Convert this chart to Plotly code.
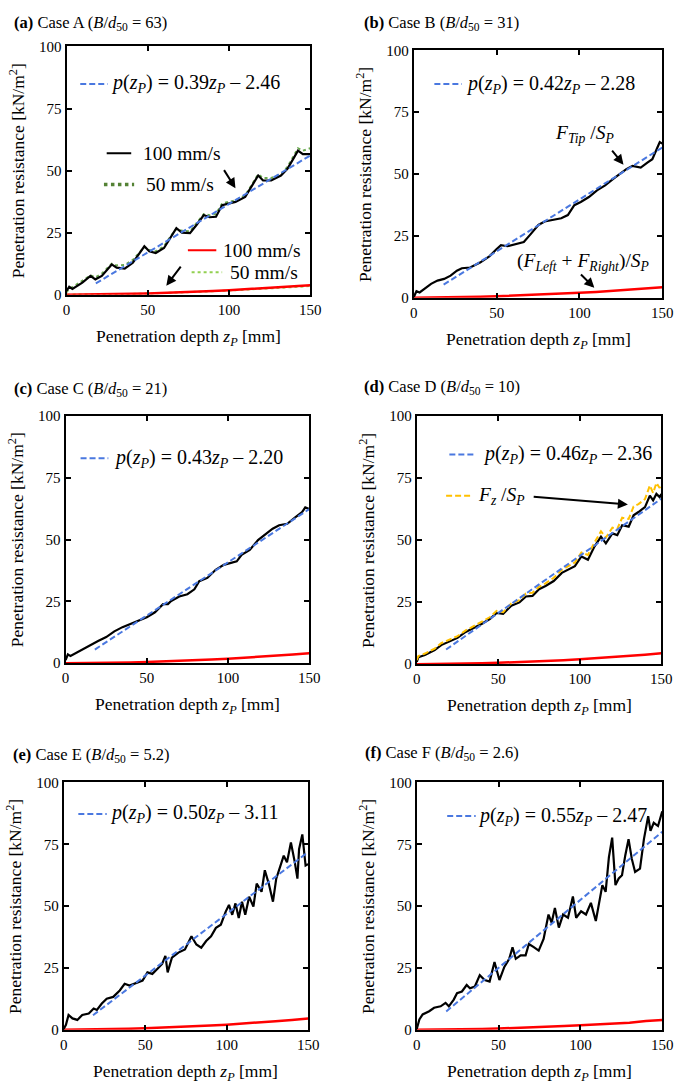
import plotly.graph_objects as go

W, H = 685, 1091
FONT = "Liberation Serif, Times New Roman, serif"

# ---------------- data ----------------
xa = [0, 1.6, 3.6, 9.7, 14.7, 17.7, 21.7, 27.8, 30.8, 35.8, 40.8, 45.9, 47.9, 50.9, 54.9, 60, 64, 67.6, 71, 76,
      80, 84.5, 88, 92, 95.8, 100, 104, 110, 115, 118, 121, 126, 132, 136, 139.5, 142.5, 145.5, 150]
ya_100 = [1.6, 3.2, 2.3, 4.9, 7.6, 6.2, 7.6, 12.2, 10.9, 10.5, 12.9, 17.5, 19.5, 17.5, 16.8, 18.8, 22.8, 26.8, 25,
          24.8, 28.1, 32.1, 31.2, 31.4, 36.1, 36.7, 37.4, 39.4, 44.7, 48, 46, 46, 48, 50.7, 54.6, 58, 56.6, 56.6]
ya_50 = [1.0, 2.5, 3.0, 5.5, 7.8, 7.0, 8.5, 12.5, 11.8, 12.0, 14.0, 17.8, 19.3, 18.0, 17.5, 19.5, 23.5, 26.5, 25.8,
         25.5, 29.0, 32.5, 32.0, 32.5, 36.8, 37.5, 38.0, 40.0, 45.0, 48.5, 47.0, 47.0, 48.5, 51.5, 55.5, 59.0, 58.0, 59.0]

xr = [0, 10, 20, 30, 40, 50, 60, 70, 80, 90, 100, 110, 120, 130, 140, 150]
ra_100 = [0, 0.03, 0.1, 0.2, 0.35, 0.5, 0.7, 0.95, 1.2, 1.5, 1.8, 2.15, 2.5, 2.9, 3.35, 3.8]
ra_50 = [0, 0.03, 0.1, 0.2, 0.33, 0.48, 0.66, 0.88, 1.12, 1.4, 1.7, 2.0, 2.35, 2.7, 3.1, 3.5]

xb = [0, 1.6, 3.5, 6.5, 10.4, 14.3, 18.3, 22.2, 26, 29, 34, 40, 45.8, 49.7, 52.6, 56.6, 61.5, 66.4, 70.3, 75.2, 79,
      84, 89, 93, 96.9, 100.8, 105.7, 110.6, 115.5, 120.4, 125.3, 128.3, 132, 137, 141, 144, 147, 148.5, 150]
yb = [0.3, 2.6, 2.1, 3.6, 5.6, 6.9, 7.6, 8.9, 10.9, 11.9, 12.2, 14.2, 16.8, 19.5, 21.2, 20.8, 21.5, 22.5, 25.5,
      29.4, 30.8, 31.4, 32.1, 33.4, 37.4, 38.7, 40.7, 43.4, 45.4, 48, 50.7, 52, 53.3, 52.6, 54.6, 56, 60.6, 62.9, 62.3]
rb = [0, 0.03, 0.1, 0.22, 0.38, 0.56, 0.78, 1.02, 1.3, 1.6, 1.95, 2.3, 2.7, 3.2, 3.7, 4.2]

xc = [0, 1.4, 3, 6, 10, 15, 20, 25, 30, 35, 40, 45, 50, 55, 60, 63, 65, 70, 75, 79.3, 82.3, 87.3, 92.4, 97.4,
      102.4, 105.4, 108.4, 113.4, 118.5, 122.5, 127.5, 131.5, 136.5, 141.6, 145.6, 147.6, 150]
yc = [1.3, 3.6, 2.9, 4.0, 5.3, 7.3, 9.0, 10.6, 12.9, 14.6, 15.9, 17.3, 18.6, 20.6, 23.9, 23.9, 25.2, 27.0, 27.9,
      29.9, 33.2, 34.5, 37.8, 39.8, 40.5, 41.2, 43.8, 45.8, 49.8, 51.8, 54.4, 55.8, 56.4, 59.1, 61.1, 63.0, 62.4]
rc = [0, 0.03, 0.1, 0.2, 0.35, 0.52, 0.72, 0.96, 1.22, 1.52, 1.85, 2.2, 2.6, 3.05, 3.5, 4.0]

xd = [0, 1, 5, 11, 15, 20, 25, 30, 35, 40, 45, 49, 53, 58, 63, 67, 71, 75, 79, 84, 89, 93, 97, 101, 105, 109,
      113, 116, 120, 123, 126, 130, 133, 136, 140, 143, 145, 147, 149, 150]
yd = [1, 2.8, 3.7, 5.7, 7.7, 9, 10.6, 13, 14.6, 16.3, 18.3, 20.7, 20.3, 23.6, 24.9, 27.3, 27.5, 30.2, 31.5, 33.5,
      36.8, 38.1, 39.5, 43.4, 42.1, 47.4, 51.4, 48.7, 52.7, 52, 56, 55.4, 60, 61.3, 63.3, 67.9, 66, 68.6, 67.3, 68.6]
yd_fz = [1.7, 3.3, 4.3, 6.3, 8.5, 9.8, 11.3, 13.6, 15.4, 17.0, 19.0, 21.5, 21.0, 24.5, 25.8, 28.5, 28.8, 31.2,
         32.6, 34.8, 38.0, 39.5, 41.0, 45.0, 44.0, 49.0, 53.5, 51.0, 55.0, 54.5, 59.0, 58.5, 63.5, 64.5, 66.5,
         72.0, 69.0, 73.0, 71.0, 72.5]
rd = [0, 0.04, 0.12, 0.24, 0.4, 0.58, 0.8, 1.05, 1.33, 1.65, 2.0, 2.4, 2.85, 3.3, 3.85, 4.4]

xe = [0, 1.4, 3, 5.4, 8.4, 11.4, 15.4, 18.4, 20.4, 23.4, 26.4, 30.4, 34.4, 37.4, 40.4, 44.4, 48.4, 51.4, 54.4,
      57.4, 60.4, 62.4, 63.8, 66.4, 70.4, 74.4, 78.4, 81.4, 84.4, 87.4, 90.4, 93.4, 96.4, 99.4, 101.4, 103.4,
      105.4, 107.4, 109.4, 111.4, 113.8, 116.4, 118.4, 121.4, 123.4, 125.8, 128.4, 130.4, 133, 135, 137, 139.4,
      141.8, 143.4, 144.4, 146.4, 148.4, 150]
ye = [0.3, 2, 6, 4.6, 4, 6, 6.6, 8.6, 8, 10.6, 12.6, 13.3, 15.9, 18.6, 17.9, 18.9, 19.9, 23.2, 22.6, 24.6, 26.6,
      29.9, 23.2, 29.2, 31.2, 32.5, 37.8, 34.5, 33.2, 35.9, 37.8, 41.2, 42.5, 47.8, 50.5, 46.5, 51.1, 45.2, 51.8,
      46.5, 53.8, 49.8, 59.1, 55.8, 64.5, 59.1, 51.8, 61.1, 66.4, 70.4, 67.7, 75.7, 67.7, 61.1, 73, 79, 66.4, 67]
re_ = [0, 0.04, 0.12, 0.24, 0.4, 0.6, 0.82, 1.08, 1.35, 1.7, 2.05, 2.45, 2.8, 3.5, 4.0, 4.6]

xf = [0, 1.6, 3.6, 7.6, 10.6, 14.6, 17.6, 19.6, 22.6, 24.6, 27.6, 30.5, 32.5, 35.5, 38.5, 41.5, 44.5, 47.5, 50.5,
      53.5, 56.5, 58.5, 60.5, 63.5, 66.5, 68.5, 71.5, 74.5, 77.5, 80.5, 82.4, 84.4, 86.8, 89.4, 92.4, 95.4, 97.4,
      100.4, 103.4, 106.4, 109.4, 111.4, 113.4, 115.4, 117.4, 119.4, 121.4, 123.4, 125.4, 127.4, 129.4, 131.4,
      133.4, 136.4, 138.8, 141.4, 142.8, 144.8, 147.4, 150]
yf = [0.3, 4.2, 6.2, 7.5, 8.9, 9.5, 10.9, 9.5, 12.2, 14.8, 15.5, 18.1, 16.8, 17.5, 22.1, 20.1, 19.5, 27.4, 20.1,
      25.4, 28.7, 33.4, 28.7, 30.1, 30.1, 34.7, 33.4, 32, 36.7, 46.6, 43.3, 49.3, 41.3, 46.6, 45.3, 53.9, 45.3,
      47.9, 46.6, 51.3, 44, 51.9, 58.5, 55.8, 69.8, 77.7, 58.5, 61.2, 62.5, 70.5, 77.1, 69.1, 63.8, 65.2, 77.1,
      86.4, 80.4, 83.7, 82.4, 88.3]
rf = [0, 0.03, 0.1, 0.2, 0.34, 0.5, 0.7, 0.92, 1.2, 1.5, 1.85, 2.2, 2.5, 2.8, 3.6, 4.0]

fit_x = [18, 150]
fit_a = [4.56, 56.04]
fit_b = [5.28, 60.72]
fit_c = [5.54, 62.30]
fit_d = [5.92, 66.64]
fit_e = [5.89, 71.89]
fit_f = [7.43, 80.03]

titles = ["<b>(a)</b> Case A (<i>B</i>/<i>d</i><sub>50</sub> = 63)",
          "<b>(b)</b> Case B (<i>B</i>/<i>d</i><sub>50</sub> = 31)",
          "<b>(c)</b> Case C (<i>B</i>/<i>d</i><sub>50</sub> = 21)",
          "<b>(d)</b> Case D (<i>B</i>/<i>d</i><sub>50</sub> = 10)",
          "<b>(e)</b> Case E (<i>B</i>/<i>d</i><sub>50</sub> = 5.2)",
          "<b>(f)</b> Case F (<i>B</i>/<i>d</i><sub>50</sub> = 2.6)"]
eq_coef = ["0.39", "0.42", "0.43", "0.46", "0.50", "0.55"]
eq_int = ["2.46", "2.28", "2.20", "2.36", "3.11", "2.47"]
x_ticks = [0, 50, 100, 150]
y_ticks = [0, 25, 50, 75, 100]

# ---------------- styling / layout ----------------
BLUE = "#4a78e0"
RED = "#ff0000"
DKGREEN = "#548235"
LTGREEN = "#92d050"
YELLOW = "#ffc000"
DASH = "6px,3px"

panels = [(64, 313, 39, 291), (419, 673, 43, 294), (63, 312, 414, 665),
          (422, 672, 414, 666), (61, 311, 786, 1037), (422, 673, 786, 1037)]
title_pos = [(8, 15), (366, 15), (8, 387), (366, 385), (7, 758), (367, 756)]
eq_pos = [(8.4, 25.3, 25.9, 84.9), (12.4, 29, 30.1, 86.4), (9.2, 26.3, 28.3, 82.9),
          (20, 36.5, 39.6, 84.5), (9, 26.4, 27.0, 87.3), (18.6, 36, 36.4, 86.4)]

fig = go.Figure()
ann = []
shapes = []


def px(x):
    return x / W


def py(y):
    return 1 - y / H


def names(i):
    s = "" if i == 0 else str(i + 1)
    return "x" + s, "y" + s, "xaxis" + s, "yaxis" + s


def line(i, x, y, color, width, dash="solid"):
    xr_, yr_, _, _ = names(i)
    fig.add_trace(go.Scatter(x=x, y=y, mode="lines", xaxis=xr_, yaxis=yr_,
                             line=dict(color=color, width=width, dash=dash), hoverinfo="skip"))


fits = [fit_a, fit_b, fit_c, fit_d, fit_e, fit_f]
reds = [ra_100, rb, rc, rd, re_, rf]
blacks = [(xa, ya_100), (xb, yb), (xc, yc), (xd, yd), (xe, ye), (xf, yf)]

for i in range(6):
    xr_, yr_, xk, yk = names(i)
    l, r, t, b = panels[i]
    fig.layout[xk] = dict(domain=[px(l), px(r)], anchor=yr_, range=[0, 150], tickvals=x_ticks,
                          showline=True, mirror="ticks", linecolor="black", linewidth=2,
                          ticks="inside", ticklen=5, tickwidth=1.5, tickcolor="black",
                          showgrid=False, zeroline=False,
                          tickfont=dict(family=FONT, size=15, color="black"))
    fig.layout[yk] = dict(domain=[py(b), py(t)], anchor=xr_, range=[0, 100], tickvals=y_ticks,
                          showline=True, mirror="ticks", linecolor="black", linewidth=2,
                          ticks="inside", ticklen=5, tickwidth=1.5, tickcolor="black",
                          showgrid=False, zeroline=False,
                          tickfont=dict(family=FONT, size=15, color="black"))

    # data
    if i == 0:
        line(i, xr, ra_50, LTGREEN, 2, "dot")
        line(i, xr, ra_100, RED, 2.5)
        line(i, xa, ya_50, "#6aa84f", 2, "dot")
        line(i, xa, ya_100, "black", 2.2)
    else:
        line(i, xr, reds[i], RED, 2.5)
        line(i, blacks[i][0], blacks[i][1], "black", 2.2)
        if i == 3:
            line(i, xd, yd_fz, YELLOW, 2, DASH)
    line(i, fit_x, fits[i], BLUE, 2, DASH)

    # titles
    tx, ty = title_pos[i]
    ann.append(dict(x=px(tx), y=py(ty), xref="paper", yref="paper", xanchor="left", yanchor="middle",
                    text=titles[i], showarrow=False, font=dict(family=FONT, size=16.5, color="black")))
    ann.append(dict(x=px(l - 51), y=py((t + b) / 2), xref="paper", yref="paper", xanchor="center",
                    yanchor="middle", textangle=-90, showarrow=False,
                    text="Penetration resistance [kN/m<sup>2</sup>]",
                    font=dict(family=FONT, size=17.5, color="black")))
    ann.append(dict(x=px((l + r) / 2), y=py(b + 43), xref="paper", yref="paper", xanchor="center",
                    yanchor="middle", showarrow=False,
                    text="Penetration depth <i>z<sub>P</sub></i> [mm]",
                    font=dict(family=FONT, size=17.5, color="black")))

    # equation with sample
    s0, s1, tx0, ey = eq_pos[i]
    shapes.append(dict(type="line", xref=xr_, yref=yr_, x0=s0, x1=s1, y0=ey, y1=ey,
                       line=dict(color=BLUE, width=2, dash=DASH)))
    ann.append(dict(x=tx0, y=ey, xref=xr_, yref=yr_, xanchor="left", yanchor="middle", showarrow=False,
                    text="<i>p</i>(<i>z<sub>P</sub></i>) = " + eq_coef[i] + "<i>z<sub>P</sub></i> – " + eq_int[i],
                    font=dict(family=FONT, size=20, color="black")))


def arrow(i, x, y, ax, ay):
    xr_, yr_, _, _ = names(i)
    ann.append(dict(x=x, y=y, ax=ax, ay=ay, xref=xr_, yref=yr_, axref=xr_, ayref=yr_, text="",
                    showarrow=True, arrowhead=2, arrowsize=1, arrowwidth=2, arrowcolor="black"))


def label(i, x, y, text, anchor="left"):
    xr_, yr_, _, _ = names(i)
    ann.append(dict(x=x, y=y, xref=xr_, yref=yr_, xanchor=anchor, yanchor="middle", showarrow=False,
                    text=text, font=dict(family=FONT, size=19.5, color="black")))


def sample(i, x0, x1, y, color, width, dash):
    xr_, yr_, _, _ = names(i)
    shapes.append(dict(type="line", xref=xr_, yref=yr_, x0=x0, x1=x1, y0=y, y1=y,
                       line=dict(color=color, width=width, dash=dash)))


# panel a legend-like labels
sample(0, 24.7, 39.8, 57, "black", 2, "solid")
label(0, 45.8, 57, "100 mm/s")
sample(0, 23, 41.6, 44.4, DKGREEN, 3.5, "dot")
label(0, 47.6, 44.4, "50 mm/s")
sample(0, 74.7, 92.2, 17.9, RED, 2, "solid")
label(0, 95.2, 17.9, "100 mm/s")
sample(0, 77, 95.8, 9.1, LTGREEN, 2, "dot")
label(0, 99.4, 9.1, "50 mm/s")
arrow(0, 104, 42.9, 96.4, 50.8)
arrow(0, 61.4, 3.6, 71, 11.9)

# panel b
label(1, 103, 66, "<i>F<sub>Tip</sub></i> /<i>S<sub>P</sub></i>", "center")
arrow(1, 126.6, 53.8, 119, 60.1)
label(1, 102, 14.3, "(<i>F<sub>Left</sub></i> + <i>F<sub>Right</sub></i>)/<i>S<sub>P</sub></i>", "center")
arrow(1, 109, 4, 100, 10)

# panel d
sample(3, 18, 34, 67.9, YELLOW, 2, DASH)
label(3, 36.6, 67.9, "<i>F<sub>z</sub></i> /<i>S<sub>P</sub></i>")
arrow(3, 129.5, 64.3, 70.8, 67.5)

fig.update_layout(width=W, height=H, margin=dict(l=0, r=0, t=0, b=0), showlegend=False,
                  plot_bgcolor="white", paper_bgcolor="white",
                  annotations=ann, shapes=shapes, font=dict(family=FONT, color="black"))

fig.write_html("out.html", config={"displayModeBar": False},
               post_script="document.body.style.margin='0';document.body.style.overflow='hidden';")
